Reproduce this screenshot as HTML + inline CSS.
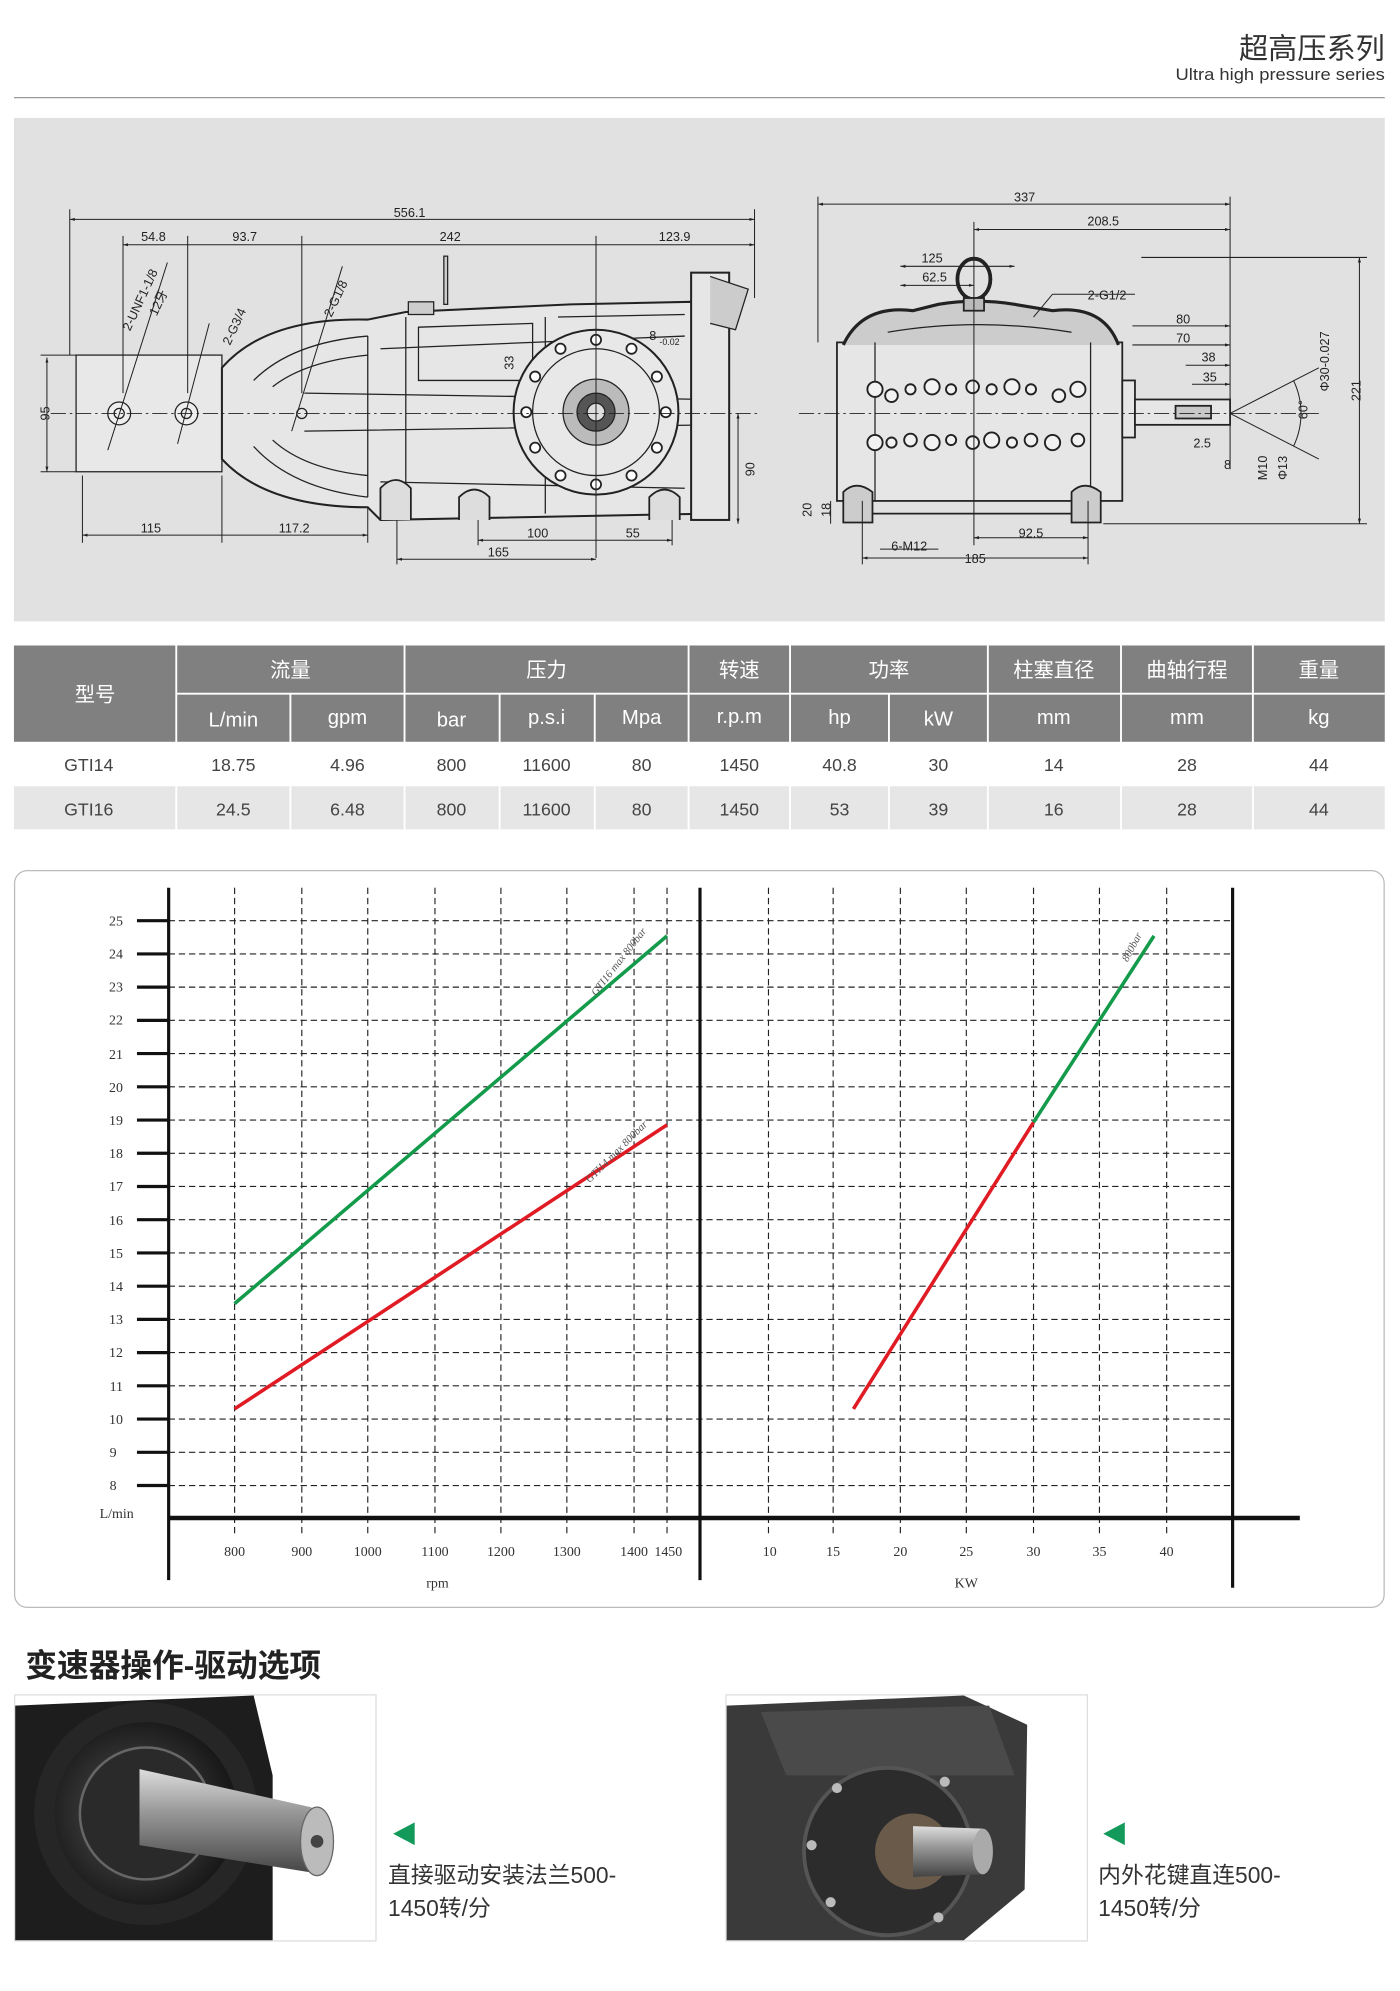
<!DOCTYPE html>
<html><head><meta charset="utf-8"><style>
html,body{margin:0;padding:0;background:#fff;}
svg{display:block;}
text{font-family:"Liberation Sans","Noto Sans CJK SC",sans-serif;}
.s text{font-family:"Liberation Serif","Noto Serif CJK SC",serif;}
</style></head><body>
<svg width="1400" height="1991" viewBox="0 0 1104 1570" preserveAspectRatio="none" xmlns="http://www.w3.org/2000/svg">
<defs>
<marker id="a" viewBox="0 0 10 10" refX="10" refY="5" markerWidth="5" markerHeight="5" orient="auto-start-reverse"><path d="M0,2 L10,5 L0,8z" fill="#222"/></marker>
<radialGradient id="g1" cx="0.45" cy="0.5" r="0.6"><stop offset="0" stop-color="#888"/><stop offset="0.5" stop-color="#333"/><stop offset="1" stop-color="#111"/></radialGradient>
<linearGradient id="sh" x1="0" y1="0" x2="0" y2="1"><stop offset="0" stop-color="#ddd"/><stop offset="0.4" stop-color="#999"/><stop offset="1" stop-color="#444"/></linearGradient>
</defs>
<text x="1092" y="46" font-size="23" text-anchor="end" fill="#333">超高压系列</text>
<text x="1092" y="63" font-size="13" text-anchor="end" fill="#333" textLength="165" lengthAdjust="spacingAndGlyphs">Ultra high pressure series</text>
<line x1="11" y1="77" x2="1092" y2="77" stroke="#999" stroke-width="1"/>
<rect x="11" y="93" width="1081" height="397" fill="#e1e1e1"/>
<g stroke="#222" fill="none" stroke-width="1" font-size="10">
<rect x="60" y="280" width="115" height="92" fill="#e8e8e8"/>
<path d="M175,290 Q210,250 290,252 L320,246 L450,240 L545,238 L560,250 L560,405 L300,410 L290,400 Q210,400 175,362 Z" fill="#e6e6e6" stroke-width="1.6"/>
<path d="M200,300 Q230,270 290,265 M200,352 Q230,385 290,392 M290,265 L290,392 M320,250 L320,405 M430,250 L430,405 M215,305 Q240,285 290,280 M215,347 Q240,370 290,375"/>
<path d="M240,310 L560,315 M240,340 L560,335 M300,275 L540,265 M300,380 L540,385 M330,258 L420,255 L420,300 L330,300 Z M440,250 L540,248"/>
<rect x="545" y="215" width="30" height="195" fill="#e6e6e6" stroke-width="1.6"/>
<path d="M560,218 L590,228 L580,260 L560,255" fill="#ccc"/>
<circle cx="470" cy="325" r="65" fill="#e8e8e8" stroke-width="1.6"/>
<circle cx="470" cy="325" r="50"/>
<circle cx="470" cy="325" r="26" fill="#bbb"/>
<circle cx="470" cy="325" r="15" fill="#555"/>
<circle cx="470" cy="325" r="7" fill="#ddd"/>
<g fill="#fff" stroke-width="1.4">
<circle cx="470" cy="268" r="4"/><circle cx="498" cy="275" r="4"/><circle cx="518" cy="297" r="4"/><circle cx="525" cy="325" r="4"/><circle cx="518" cy="353" r="4"/><circle cx="498" cy="375" r="4"/><circle cx="470" cy="382" r="4"/><circle cx="442" cy="375" r="4"/><circle cx="422" cy="353" r="4"/><circle cx="415" cy="325" r="4"/><circle cx="422" cy="297" r="4"/><circle cx="442" cy="275" r="4"/>
</g>
<path d="M300,410 L300,385 Q312,372 324,385 L324,410 M362,410 L362,392 Q374,380 386,392 L386,410 M512,410 L512,392 Q524,380 536,392 L536,410" fill="#ddd" stroke-width="1.4"/>
<rect x="350" y="202" width="3" height="38" fill="#ccc"/>
<rect x="322" y="238" width="20" height="10" fill="#ccc"/>
<circle cx="94" cy="326" r="9" fill="#eee"/><circle cx="94" cy="326" r="4"/>
<circle cx="147" cy="326" r="9" fill="#eee"/><circle cx="147" cy="326" r="4"/>
<circle cx="238" cy="326" r="4"/>
<line x1="40" y1="326" x2="600" y2="326" stroke-dasharray="12,3,2,3" stroke-width="0.7"/>
<g stroke-width="0.8">
<line x1="55" y1="173" x2="595" y2="173" marker-start="url(#a)" marker-end="url(#a)"/>
<line x1="97" y1="193" x2="595" y2="193" marker-start="url(#a)" marker-end="url(#a)"/>
<line x1="55" y1="165" x2="55" y2="280"/><line x1="595" y1="165" x2="595" y2="235"/>
<line x1="97" y1="186" x2="97" y2="310"/><line x1="148" y1="186" x2="148" y2="310"/><line x1="238" y1="186" x2="238" y2="310"/><line x1="470" y1="186" x2="470" y2="440"/>
<line x1="65" y1="422" x2="290" y2="422" marker-start="url(#a)" marker-end="url(#a)"/>
<line x1="65" y1="375" x2="65" y2="428"/><line x1="175" y1="375" x2="175" y2="428"/><line x1="290" y1="400" x2="290" y2="428"/>
<line x1="377" y1="426" x2="530" y2="426" marker-start="url(#a)" marker-end="url(#a)"/>
<line x1="313" y1="441" x2="470" y2="441" marker-start="url(#a)" marker-end="url(#a)"/>
<line x1="313" y1="410" x2="313" y2="445"/><line x1="377" y1="410" x2="377" y2="430"/><line x1="530" y1="410" x2="530" y2="430"/>
<line x1="37" y1="282" x2="37" y2="372" marker-start="url(#a)" marker-end="url(#a)"/>
<line x1="32" y1="280" x2="60" y2="280"/><line x1="32" y1="372" x2="60" y2="372"/>
<line x1="582" y1="326" x2="582" y2="413" marker-start="url(#a)" marker-end="url(#a)"/>
<line x1="85" y1="355" x2="132" y2="207"/><line x1="140" y1="350" x2="165" y2="255"/><line x1="230" y1="340" x2="270" y2="210"/>
</g>
</g>
<g font-size="10" fill="#222">
<text x="323" y="171" text-anchor="middle">556.1</text>
<text x="121" y="190" text-anchor="middle">54.8</text>
<text x="193" y="190" text-anchor="middle">93.7</text>
<text x="355" y="190" text-anchor="middle">242</text>
<text x="532" y="190" text-anchor="middle">123.9</text>
<text x="119" y="420" text-anchor="middle">115</text>
<text x="232" y="420" text-anchor="middle">117.2</text>
<text x="424" y="424" text-anchor="middle">100</text>
<text x="499" y="424" text-anchor="middle">55</text>
<text x="393" y="439" text-anchor="middle">165</text>
<text x="35" y="330" transform="rotate(-90 35 326)" text-anchor="middle">95</text>
<text x="593" y="372" transform="rotate(-90 593 370)" text-anchor="middle">90</text>
<text x="409" y="290" transform="rotate(-90 405 290)" text-anchor="middle">33</text>
<text x="512" y="268">8</text><text x="520" y="272" font-size="7">-0.02</text>
<text x="108" y="235" transform="rotate(-65 113 232)" text-anchor="middle">2-UNF1-1/8</text>
<text x="128" y="240" transform="rotate(-65 128 240)" text-anchor="middle">12牙</text>
<text x="186" y="260" transform="rotate(-65 186 258)" text-anchor="middle">2-G3/4</text>
<text x="266" y="238" transform="rotate(-65 266 236)" text-anchor="middle">2-G1/8</text>
</g>
<g stroke="#222" fill="none" stroke-width="1.4">
<rect x="660" y="270" width="225" height="125" fill="#e6e6e6"/>
<path d="M665,272 Q680,240 720,245 L740,240 Q770,235 800,240 L830,245 Q870,240 882,272" fill="#ccc" stroke-width="2.5"/>
<path d="M700,262 Q770,250 845,262 M690,270 L690,395 M860,270 L860,395" stroke-width="1"/>
<ellipse cx="768" cy="220" rx="13" ry="16" stroke-width="3"/>
<rect x="760" y="235" width="16" height="10" fill="#bbb"/>
<rect x="885" y="300" width="10" height="45" fill="#e6e6e6"/>
<rect x="895" y="315" width="75" height="20" fill="#e6e6e6"/>
<rect x="927" y="320" width="28" height="10" fill="#c8c8c8"/>
<path d="M665,395 L665,388 Q675,378 688,388 L688,412 L665,412 Z M845,395 L845,388 Q855,378 868,388 L868,412 L845,412 Z" fill="#ccc"/>
<line x1="688" y1="405" x2="845" y2="405"/>
<g stroke-width="1.5" fill="#f2f2f2">
<circle cx="690" cy="307" r="6"/><circle cx="703" cy="312" r="5"/><circle cx="718" cy="307" r="4"/><circle cx="735" cy="305" r="6"/><circle cx="750" cy="307" r="4"/><circle cx="767" cy="305" r="5"/><circle cx="782" cy="307" r="4"/><circle cx="798" cy="305" r="6"/><circle cx="813" cy="307" r="4"/><circle cx="835" cy="312" r="5"/><circle cx="850" cy="307" r="6"/>
<circle cx="690" cy="349" r="6"/><circle cx="703" cy="349" r="4"/><circle cx="718" cy="347" r="5"/><circle cx="735" cy="349" r="6"/><circle cx="750" cy="347" r="4"/><circle cx="767" cy="349" r="5"/><circle cx="782" cy="347" r="6"/><circle cx="798" cy="349" r="4"/><circle cx="813" cy="347" r="5"/><circle cx="830" cy="349" r="6"/><circle cx="850" cy="347" r="5"/>
</g>
<line x1="630" y1="326" x2="1040" y2="326" stroke-dasharray="12,3,2,3" stroke-width="0.7"/>
</g>
<g stroke="#222" stroke-width="0.8" fill="none">
<line x1="645" y1="161" x2="970" y2="161" marker-start="url(#a)" marker-end="url(#a)"/>
<line x1="768" y1="181" x2="970" y2="181" marker-start="url(#a)" marker-end="url(#a)"/>
<line x1="710" y1="210" x2="800" y2="210" marker-start="url(#a)" marker-end="url(#a)"/>
<line x1="710" y1="225" x2="768" y2="225" marker-start="url(#a)" marker-end="url(#a)"/>
<line x1="893" y1="257" x2="970" y2="257" marker-end="url(#a)"/>
<line x1="893" y1="272" x2="970" y2="272" marker-end="url(#a)"/>
<line x1="935" y1="288" x2="970" y2="288" marker-end="url(#a)"/>
<line x1="940" y1="303" x2="970" y2="303" marker-end="url(#a)"/>
<line x1="1072" y1="203" x2="1072" y2="413" marker-start="url(#a)" marker-end="url(#a)"/>
<line x1="768" y1="424" x2="858" y2="424" marker-start="url(#a)" marker-end="url(#a)"/>
<line x1="680" y1="440" x2="858" y2="440" marker-start="url(#a)" marker-end="url(#a)"/>
<line x1="645" y1="155" x2="645" y2="270"/><line x1="970" y1="155" x2="970" y2="370"/><line x1="768" y1="175" x2="768" y2="430"/>
<line x1="858" y1="395" x2="858" y2="445"/><line x1="680" y1="395" x2="680" y2="445"/>
<line x1="900" y1="203" x2="1078" y2="203"/><line x1="870" y1="413" x2="1078" y2="413"/>
<line x1="1040" y1="290" x2="970" y2="326"/><line x1="1040" y1="362" x2="970" y2="326"/>
<path d="M1020,300 A60,60 0 0 1 1020,352"/>
<line x1="830" y1="232" x2="895" y2="232"/><line x1="830" y1="232" x2="815" y2="250"/>
<line x1="694" y1="433" x2="740" y2="433"/><line x1="655" y1="395" x2="655" y2="413"/>
</g>
<g font-size="10" fill="#222">
<text x="808" y="159" text-anchor="middle">337</text>
<text x="870" y="178" text-anchor="middle">208.5</text>
<text x="735" y="207" text-anchor="middle">125</text>
<text x="737" y="222" text-anchor="middle">62.5</text>
<text x="873" y="236" text-anchor="middle">2-G1/2</text>
<text x="933" y="255" text-anchor="middle">80</text>
<text x="933" y="270" text-anchor="middle">70</text>
<text x="953" y="285" text-anchor="middle">38</text>
<text x="954" y="301" text-anchor="middle">35</text>
<text x="948" y="353" text-anchor="middle">2.5</text>
<text x="968" y="370" text-anchor="middle">8</text>
<text x="813" y="424" text-anchor="middle">92.5</text>
<text x="769" y="444" text-anchor="middle">185</text>
<text x="717" y="434" text-anchor="middle">6-M12</text>
<text x="1069" y="312" transform="rotate(-90 1069 308)" text-anchor="middle">221</text>
<text x="1045" y="288" transform="rotate(-90 1045 285)" text-anchor="middle">Φ30-0.027</text>
<text x="1032" y="330" transform="rotate(-90 1028 327)" text-anchor="middle">60°</text>
<text x="1000" y="374" transform="rotate(-90 997 372)" text-anchor="middle">M10</text>
<text x="1016" y="374" transform="rotate(-90 1013 372)" text-anchor="middle">Φ13</text>
<text x="640" y="408" transform="rotate(-90 637 405)" text-anchor="middle">20</text>
<text x="655" y="408" transform="rotate(-90 652 405)" text-anchor="middle">18</text>
</g>
<rect x="11" y="509" width="1081" height="76" fill="#808080"/>
<rect x="11" y="585" width="1081" height="35" fill="#fff"/>
<rect x="11" y="620" width="1081" height="34" fill="#e6e6e6"/>
<g stroke="#fff" stroke-width="1.5">
<line x1="139" y1="547" x2="1092" y2="547"/>
<line x1="139" y1="509" x2="139" y2="654"/><line x1="319" y1="509" x2="319" y2="654"/><line x1="543" y1="509" x2="543" y2="654"/><line x1="623" y1="509" x2="623" y2="654"/><line x1="779" y1="509" x2="779" y2="654"/><line x1="884" y1="509" x2="884" y2="654"/><line x1="988" y1="509" x2="988" y2="654"/>
<line x1="229" y1="547" x2="229" y2="654"/><line x1="394" y1="547" x2="394" y2="654"/><line x1="469" y1="547" x2="469" y2="654"/><line x1="701" y1="547" x2="701" y2="654"/>
</g>
<g font-size="16" fill="#fff" text-anchor="middle">
<text x="75" y="553">型号</text>
<text x="229" y="534">流量</text><text x="431" y="534">压力</text><text x="583" y="534">转速</text><text x="701" y="534">功率</text><text x="831" y="534">柱塞直径</text><text x="936" y="534">曲轴行程</text><text x="1040" y="534">重量</text>
<text x="184" y="573">L/min</text><text x="274" y="571">gpm</text><text x="356" y="573">bar</text><text x="431" y="571">p.s.i</text><text x="506" y="571">Mpa</text><text x="583" y="570">r.p.m</text><text x="662" y="571">hp</text><text x="740" y="572">kW</text><text x="831" y="571">mm</text><text x="936" y="571">mm</text><text x="1040" y="571">kg</text>
</g>
<g font-size="14" fill="#444" text-anchor="middle">
<text x="70" y="608">GTI14</text><text x="184" y="608">18.75</text><text x="274" y="608">4.96</text><text x="356" y="608">800</text><text x="431" y="608">11600</text><text x="506" y="608">80</text><text x="583" y="608">1450</text><text x="662" y="608">40.8</text><text x="740" y="608">30</text><text x="831" y="608">14</text><text x="936" y="608">28</text><text x="1040" y="608">44</text>
<text x="70" y="643">GTI16</text><text x="184" y="643">24.5</text><text x="274" y="643">6.48</text><text x="356" y="643">800</text><text x="431" y="643">11600</text><text x="506" y="643">80</text><text x="583" y="643">1450</text><text x="662" y="643">53</text><text x="740" y="643">39</text><text x="831" y="643">16</text><text x="936" y="643">28</text><text x="1040" y="643">44</text>
</g>
<rect x="11.5" y="686.5" width="1080" height="581" rx="10" fill="#fff" stroke="#bbb"/>
<g stroke="#222" stroke-width="0.9" stroke-dasharray="5,3">
<line x1="133" y1="726" x2="972" y2="726"/><line x1="133" y1="752.2" x2="972" y2="752.2"/><line x1="133" y1="778.4" x2="972" y2="778.4"/><line x1="133" y1="804.6" x2="972" y2="804.6"/><line x1="133" y1="830.8" x2="972" y2="830.8"/><line x1="133" y1="857" x2="972" y2="857"/><line x1="133" y1="883.2" x2="972" y2="883.2"/><line x1="133" y1="909.4" x2="972" y2="909.4"/><line x1="133" y1="935.6" x2="972" y2="935.6"/><line x1="133" y1="961.8" x2="972" y2="961.8"/><line x1="133" y1="988" x2="972" y2="988"/><line x1="133" y1="1014.2" x2="972" y2="1014.2"/><line x1="133" y1="1040.4" x2="972" y2="1040.4"/><line x1="133" y1="1066.6" x2="972" y2="1066.6"/><line x1="133" y1="1092.8" x2="972" y2="1092.8"/><line x1="133" y1="1119" x2="972" y2="1119"/><line x1="133" y1="1145.2" x2="972" y2="1145.2"/><line x1="133" y1="1171.4" x2="972" y2="1171.4"/>
<line x1="185" y1="700" x2="185" y2="1210"/><line x1="238" y1="700" x2="238" y2="1210"/><line x1="290" y1="700" x2="290" y2="1210"/><line x1="343" y1="700" x2="343" y2="1210"/><line x1="395" y1="700" x2="395" y2="1210"/><line x1="447" y1="700" x2="447" y2="1210"/><line x1="500" y1="700" x2="500" y2="1210"/><line x1="526" y1="700" x2="526" y2="1210"/>
<line x1="606" y1="700" x2="606" y2="1210"/><line x1="657" y1="700" x2="657" y2="1210"/><line x1="710" y1="700" x2="710" y2="1210"/><line x1="762" y1="700" x2="762" y2="1210"/><line x1="815" y1="700" x2="815" y2="1210"/><line x1="867" y1="700" x2="867" y2="1210"/><line x1="920" y1="700" x2="920" y2="1210"/>
</g>
<g stroke="#111" stroke-width="2.5">
<line x1="108" y1="726" x2="133" y2="726"/><line x1="108" y1="752.2" x2="133" y2="752.2"/><line x1="108" y1="778.4" x2="133" y2="778.4"/><line x1="108" y1="804.6" x2="133" y2="804.6"/><line x1="108" y1="830.8" x2="133" y2="830.8"/><line x1="108" y1="857" x2="133" y2="857"/><line x1="108" y1="883.2" x2="133" y2="883.2"/><line x1="108" y1="909.4" x2="133" y2="909.4"/><line x1="108" y1="935.6" x2="133" y2="935.6"/><line x1="108" y1="961.8" x2="133" y2="961.8"/><line x1="108" y1="988" x2="133" y2="988"/><line x1="108" y1="1014.2" x2="133" y2="1014.2"/><line x1="108" y1="1040.4" x2="133" y2="1040.4"/><line x1="108" y1="1066.6" x2="133" y2="1066.6"/><line x1="108" y1="1092.8" x2="133" y2="1092.8"/><line x1="108" y1="1119" x2="133" y2="1119"/><line x1="108" y1="1145.2" x2="133" y2="1145.2"/><line x1="108" y1="1171.4" x2="133" y2="1171.4"/>
<line x1="133" y1="700" x2="133" y2="1246"/><line x1="552" y1="700" x2="552" y2="1246"/><line x1="972" y1="700" x2="972" y2="1252"/>
<line x1="133" y1="1197" x2="1025" y2="1197" stroke-width="3.5"/>
</g>
<g stroke-width="2.8" fill="none">
<line x1="185" y1="1028" x2="526" y2="738" stroke="#139a4a"/>
<line x1="185" y1="1111" x2="526" y2="887" stroke="#e01b24"/>
<line x1="673" y1="1111" x2="815" y2="885" stroke="#e01b24"/>
<line x1="815" y1="885" x2="910" y2="738" stroke="#139a4a"/>
</g>
<g class="s" font-size="11" fill="#333">
<text x="97" y="730" text-anchor="end">25</text><text x="97" y="756" text-anchor="end">24</text><text x="97" y="782" text-anchor="end">23</text><text x="97" y="808" text-anchor="end">22</text><text x="97" y="835" text-anchor="end">21</text><text x="97" y="861" text-anchor="end">20</text><text x="97" y="887" text-anchor="end">19</text><text x="97" y="913" text-anchor="end">18</text><text x="97" y="939" text-anchor="end">17</text><text x="97" y="966" text-anchor="end">16</text><text x="97" y="992" text-anchor="end">15</text><text x="97" y="1018" text-anchor="end">14</text><text x="97" y="1044" text-anchor="end">13</text><text x="97" y="1070" text-anchor="end">12</text><text x="97" y="1097" text-anchor="end">11</text><text x="97" y="1123" text-anchor="end">10</text><text x="92" y="1149" text-anchor="end">9</text><text x="92" y="1175" text-anchor="end">8</text>
<text x="92" y="1197" text-anchor="middle">L/min</text>
<text x="185" y="1227" text-anchor="middle">800</text><text x="238" y="1227" text-anchor="middle">900</text><text x="290" y="1227" text-anchor="middle">1000</text><text x="343" y="1227" text-anchor="middle">1100</text><text x="395" y="1227" text-anchor="middle">1200</text><text x="447" y="1227" text-anchor="middle">1300</text><text x="500" y="1227" text-anchor="middle">1400</text><text x="527" y="1227" text-anchor="middle">1450</text>
<text x="607" y="1227" text-anchor="middle">10</text><text x="657" y="1227" text-anchor="middle">15</text><text x="710" y="1227" text-anchor="middle">20</text><text x="762" y="1227" text-anchor="middle">25</text><text x="815" y="1227" text-anchor="middle">30</text><text x="867" y="1227" text-anchor="middle">35</text><text x="920" y="1227" text-anchor="middle">40</text>
<text x="345" y="1252" text-anchor="middle">rpm</text><text x="762" y="1252" text-anchor="middle">KW</text>
<text x="490" y="760" font-size="8.5" fill="#555" font-style="italic" transform="rotate(-52 490 760)" text-anchor="middle">GTI16 max 800bar</text>
<text x="488" y="910" font-size="8.5" fill="#555" font-style="italic" transform="rotate(-45 488 910)" text-anchor="middle">GTI14 max 800bar</text>
<text x="895" y="748" font-size="8.5" fill="#555" font-style="italic" transform="rotate(-62 895 748)" text-anchor="middle">800bar</text>
</g>
<text x="20" y="1322" font-size="25" font-weight="bold" fill="#222">变速器操作-驱动选项</text>
<rect x="11.5" y="1336.5" width="285" height="194" fill="#fff" stroke="#ddd"/>
<rect x="572.5" y="1336.5" width="285" height="194" fill="#fff" stroke="#ddd"/>
<path d="M12,1345 L200,1337 L215,1400 L215,1530 L12,1530 Z" fill="#1d1d1d"/>
<circle cx="115" cy="1430" r="88" fill="#262626"/>
<circle cx="115" cy="1430" r="72" fill="url(#g1)"/>
<circle cx="115" cy="1430" r="52" fill="#2a2a2a" stroke="#666" stroke-width="2"/>
<path d="M110,1395 L245,1425 Q268,1440 255,1478 L110,1455 Z" fill="url(#sh)"/>
<ellipse cx="250" cy="1452" rx="13" ry="27" fill="#bbb" stroke="#666"/>
<circle cx="250" cy="1452" r="5" fill="#444"/>
<path d="M573,1345 L760,1337 L810,1360 L808,1490 L760,1530 L573,1530 Z" fill="#3a3a3a"/>
<path d="M600,1350 L780,1345 L800,1400 L620,1400 Z" fill="#4a4a4a"/>
<circle cx="700" cy="1460" r="66" fill="#2c2c2c" stroke="#555" stroke-width="3"/>
<circle cx="720" cy="1460" r="30" fill="#6a5a4a"/>
<path d="M720,1440 L775,1442 L775,1478 L720,1480 Z" fill="url(#sh)"/>
<ellipse cx="775" cy="1460" rx="8" ry="18" fill="#aaa"/>
<g fill="#bbb"><circle cx="660" cy="1410" r="4"/><circle cx="745" cy="1405" r="4"/><circle cx="655" cy="1500" r="4"/><circle cx="740" cy="1512" r="4"/><circle cx="640" cy="1455" r="4"/></g>
<path d="M310,1446 L327,1437 L327,1455 Z" fill="#139a5a"/>
<path d="M870,1446 L887,1437 L887,1455 Z" fill="#139a5a"/>
<g font-size="18" fill="#333">
<text x="306" y="1485">直接驱动安装法兰500-</text><text x="306" y="1511">1450转/分</text>
<text x="866" y="1485">内外花键直连500-</text><text x="866" y="1511">1450转/分</text>
</g>
</svg>
</body></html>
